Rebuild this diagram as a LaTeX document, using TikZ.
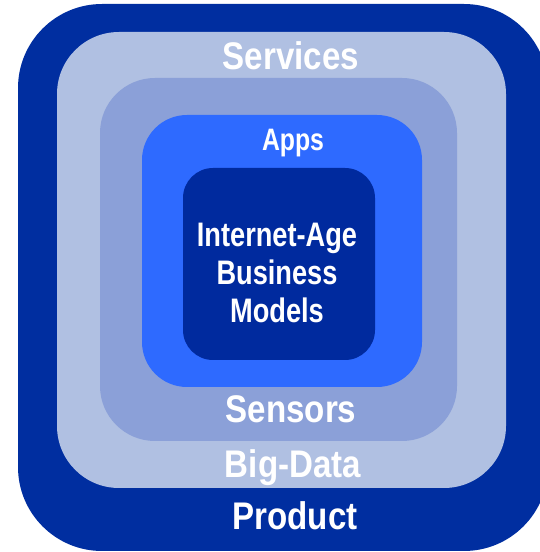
\documentclass[tikz,border=0pt]{standalone}
\usepackage{fontspec}
\newfontfamily\labfont{Liberation Sans}[FakeStretch=0.86]
\newfontfamily\labfontn{Liberation Sans}[FakeStretch=0.80]
\definecolor{outerblue}{RGB}{0,46,160}
\definecolor{lightblue}{RGB}{176,192,226}
\definecolor{midblue}{RGB}{139,160,216}
\definecolor{brightblue}{RGB}{46,106,255}
\definecolor{innerblue}{RGB}{0,42,158}
\begin{document}
\begin{tikzpicture}[x=1pt,y=1pt,
  biglab/.style={text=white,inner sep=0pt,anchor=base,font=\labfont\bfseries\fontsize{38.5}{40}\selectfont},
  smalllab/.style={text=white,inner sep=0pt,font=\labfontn\bfseries\fontsize{34}{38}\selectfont}]
\useasboundingbox (0,0) rectangle (540,552);
\begin{scope}
\clip (0,0) rectangle (540,552);
\fill[outerblue,rounded corners=84pt] (18,1) rectangle (548,548);
\end{scope}
\fill[lightblue,rounded corners=62pt] (57,64) rectangle (506,520);
\fill[midblue,rounded corners=55pt] (100,111) rectangle (457,474);
\fill[brightblue,rounded corners=45pt] (142,165) rectangle (422,437);
\fill[innerblue,rounded corners=30pt] (183,192) rectangle (375,384);
\node[biglab] (services) at (291,482) {Services};
\node[smalllab,anchor=base,font=\labfontn\bfseries\fontsize{31}{32}\selectfont] (apps) at (293,401) {Apps};
\node[smalllab,align=center,anchor=center] (core) at (277,279) {Internet-Age\\Business\\Models};
\node[biglab] (sensors) at (291,129) {Sensors};
\node[biglab] (bigdata) at (293,74) {Big-Data};
\node[biglab] (product) at (295,22) {Product};
\end{tikzpicture}
\end{document}
